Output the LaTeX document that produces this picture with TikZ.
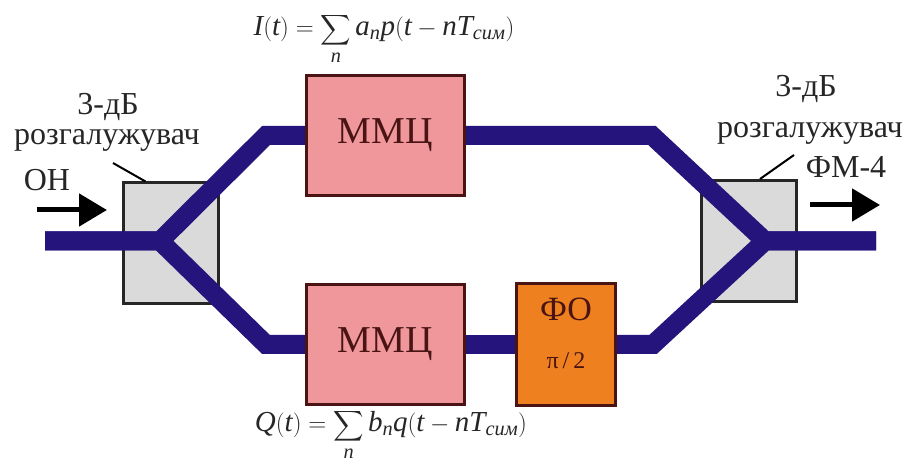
\documentclass[tikz,border=0pt]{standalone}
\usepackage{fontspec}
\setmainfont{Liberation Serif}
\usepackage{amsmath}
\usepackage{graphicx}
\usepackage{tikz}
\usetikzlibrary{arrows.meta, positioning, calc, backgrounds}
\definecolor{Navy}  {HTML}{24147C}
\definecolor{Rose}  {HTML}{EF979B}
\definecolor{Amber} {HTML}{EF8020}
\definecolor{Silver}{HTML}{DADADA}
\definecolor{Maroon}{HTML}{4A1414}
\newcommand{\bigsum}{\mathop{\scalebox{0.85}{$\displaystyle\sum$}}\limits}
\tikzset{
  blk/.style={draw=Maroon, line width=3pt, fill=Rose, text=Maroon, inner sep=0pt,
              font=\fontsize{38}{42}\selectfont, minimum width=158pt, minimum height=120pt},
  spl/.style={draw=black!85, line width=3pt, fill=Silver, minimum width=95pt, minimum height=121pt},
  fib/.style={line width=19pt, color=Navy, line join=miter},
  arr/.style={-{Triangle[length=28pt,width=32pt]}, line width=5pt},
  lbl/.style={font=\fontsize{32}{36}\selectfont, text=black!85, inner sep=0pt},
  frm/.style={font=\fontsize{29}{33}\selectfont, text=black!85, inner sep=0pt, anchor=base}
}

\begin{document}
\begin{tikzpicture}[x=1pt,y=1pt]
  \useasboundingbox (0,0) rectangle (908,468);
  \node[blk] (M1) at (385.5,332.5) {ММЦ};
  \node[blk, below=86pt of M1] (M2) {ММЦ};
  \node[blk, fill=Amber, minimum width=99pt, minimum height=122pt, right=49pt of M2] (FO) {};
  \node[lbl, text=Maroon, font=\fontsize{34}{38}\selectfont] (FOa) at ([yshift=35pt]FO.center) {ФО};
  \node[lbl, text=Maroon, font=\fontsize{24}{26}\selectfont] (FOb) at ([yshift=-16pt]FO.center) {π\,/\,2};
  \coordinate (in) at (45,227);  \coordinate (jl) at (160,227);
  \coordinate (jr) at (765,227); \coordinate (out) at (876,227);
  \begin{scope}[on background layer]
    \node[spl] (S1) at (170.5,224.5) {};
    \node[spl] (S2) at (749,227) {};
    \draw[fib] (in) -- (jl) -- ([xshift=-39pt]M1.west) -- (M1.west);
    \draw[fib] (in) -- (jl) -- ([xshift=-39pt]M2.west) -- (M2.west);
    \draw[fib] (out) -- (jr) -- ([xshift=186pt]M1.east) -- (M1.east);
    \draw[fib] (out) -- (jr) -- ([xshift=36pt]FO.east) -- (FO.east);
    \draw[fib] (M2.east) -- (FO.west);
  \end{scope}
  \node[lbl] (L1) at (108,361) {3-дБ};
  \node[lbl] (L2) at (107,328) {розгалужувач};
  \node[lbl] (L3) at (47,288) {ОН};
  \node[lbl] (R1) at (806,379) {3-дБ};
  \node[lbl] (R2) at (810,335) {розгалужувач};
  \node[lbl] (R3) at (846,301) {ФМ-4};
  \coordinate (pl) at (113,305); \coordinate (pr) at (794,313);
  \draw[line width=2pt] (pl) -- ([xshift=24pt]S1.north west);
  \draw[line width=2pt] (pr) -- ([xshift=60pt]S2.north west);
  \coordinate (a1) at (37,258);  \coordinate (a2) at (107,258);
  \coordinate (a3) at (810,263); \coordinate (a4) at (880,263);
  \draw[arr] (a1) -- (a2); \draw[arr] (a3) -- (a4);
  \node[frm] (FI) at (384,432)
    {$\mathit{I}(\mathit{t})=\bigsum_{\mathit{n}}\mathit{a}_{\mathit{n}}\mathit{p}(\mathit{t}-\mathit{nT}_{\text{\itshape сим}})$};
  \node[frm] (FQ) at (391,36)
    {$\mathit{Q}(\mathit{t})=\bigsum_{\mathit{n}}\mathit{b}_{\mathit{n}}\mathit{q}(\mathit{t}-\mathit{nT}_{\text{\itshape сим}})$};
\end{tikzpicture}
\end{document}
